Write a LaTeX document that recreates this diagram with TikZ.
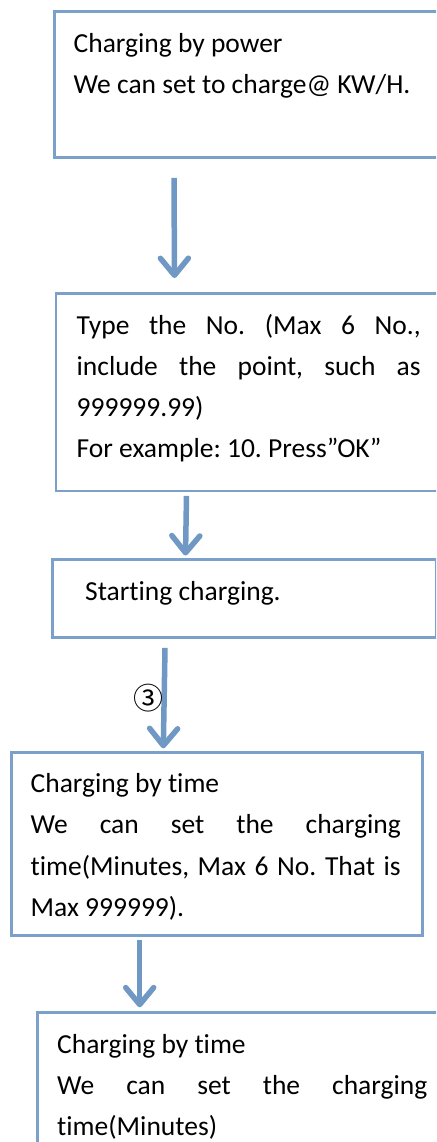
\documentclass[tikz,border=0pt]{standalone}
\usepackage{fontspec}
\setmainfont{Carlito}[Ligatures=NoCommon]
\newfontfamily\circfont{Noto Sans CJK SC}
\usetikzlibrary{arrows.meta}
\definecolor{boxblue}{HTML}{7BA1CB}
\definecolor{arrblue}{HTML}{6F98C5}
\tikzset{
  flowbox/.style={draw=boxblue, line width=2.8pt, rectangle, inner sep=0pt, anchor=north west},
  flowtext/.style={inner sep=0pt, anchor=base west, font=\fontsize{27.5}{41.2}\selectfont\frenchspacing, text=black},
  flowarrow/.style={draw=arrblue, line width=5.5pt, -{Straight Barb[length=17pt, width=28pt, round]}},
}
\newcommand\jline[2]{\hbox{\makebox[#1][s]{#2}}}
\begin{document}
\begin{tikzpicture}[x=1pt, y=-1pt]
\useasboundingbox (0,0) rectangle (436,1142);
\clip (0,0) rectangle (436,1142);
% boxes
\node[flowbox, minimum width=420pt, minimum height=146pt] (b1) at (53,10.5) {};
\node[flowbox, minimum width=420pt, minimum height=197.5pt] (b2) at (54.5,292) {};
\node[flowbox, minimum width=383.5pt, minimum height=78pt] (b3) at (51,558) {};
\node[flowbox, minimum width=411pt, minimum height=183pt] (b4) at (9.7,751.3) {};
\node[flowbox, minimum width=440pt, minimum height=180pt] (b5) at (35.7,1010.7) {};
% texts
\node[flowtext] (t1) at (73.5,52.3) {\vtop{\hbox{Charging by power}\hbox{We can set to charge@ KW/H.}}};
\node[flowtext] (t2) at (76.5,334) {\vtop{\jline{344pt}{Type the No. (Max 6 No.,}\jline{344pt}{include the point, such as}\hbox{999999.99)}\hbox{For example: 10. Press”OK”}}};
\node[flowtext] (t3) at (85,600.7) {Starting charging.};
\node[flowtext] (t4) at (30.5,792.7) {\vtop{\hbox{Charging by time}\jline{370pt}{We can set the charging}\jline{370pt}{time(Minutes, Max 6 No. That is}\hbox{Max 999999).}}};
\node[flowtext] (t5) at (57,1053.3) {\vtop{\hbox{Charging by time}\jline{370pt}{We can set the charging}\hbox{time(Minutes)}}};
% arrows
\draw[flowarrow] ([shift={(121,18.5)}]b1.south west) -- ([shift={(120,-14)}]b2.north west);
\draw[flowarrow] ([shift={(132,3.5)}]b2.south west) -- ([shift={(134.5,-2.5)}]b3.north west);
\draw[flowarrow] ([shift={(114,9)}]b3.south west) -- node[pos=0.5, anchor=east, xshift=2pt, inner sep=0pt, text=black, font=\circfont\fontsize{30}{30}\selectfont] (c3) {③} ([shift={(153.6,-3)}]b4.north west);
\draw[flowarrow] ([shift={(130,2.5)}]b4.south west) -- ([shift={(104,-3.4)}]b5.north west);
\end{tikzpicture}
\end{document}
